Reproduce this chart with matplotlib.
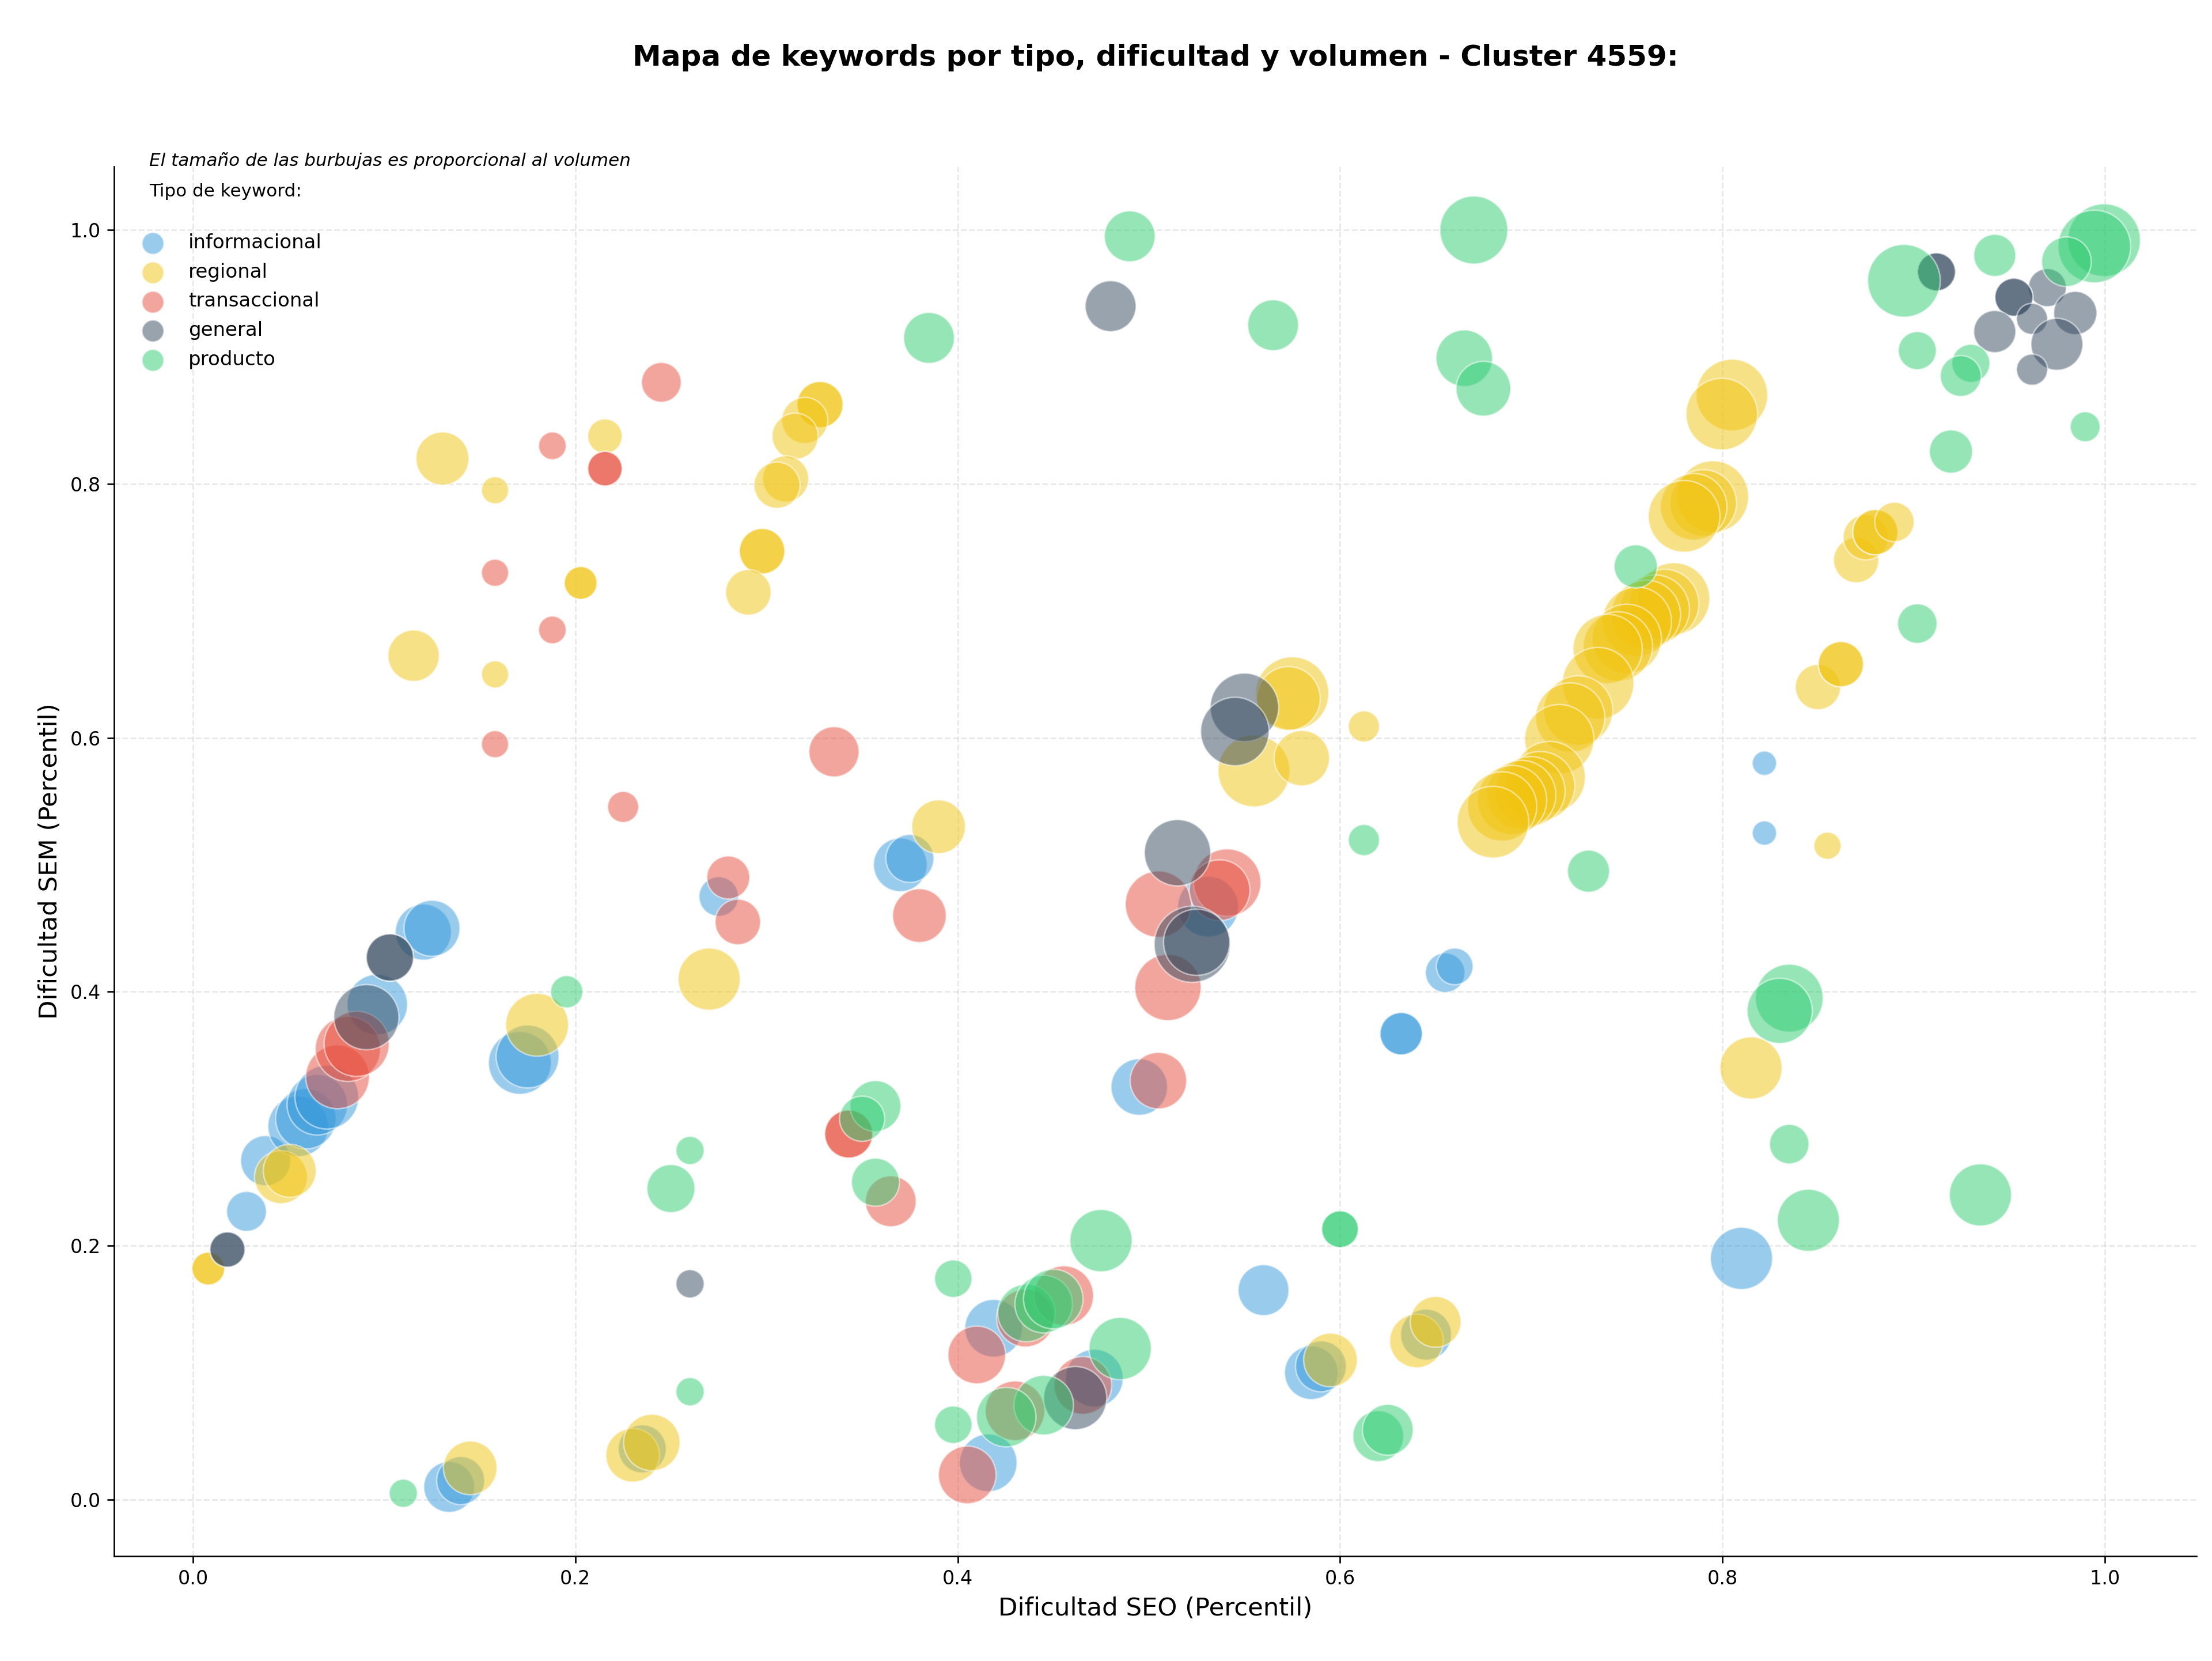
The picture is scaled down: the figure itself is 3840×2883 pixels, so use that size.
import matplotlib
matplotlib.use("Agg")
import matplotlib.pyplot as plt

# ---------------- data ----------------
tipos = ["informacional", "regional", "transaccional", "general", "producto"]
colores = ["#3498db", "#f1c40f", "#e74c3c", "#34495e", "#2ecc71"]

x_informacional = [0.028, 0.038, 0.055, 0.059, 0.065, 0.070, 0.0964, 0.1205, 0.125, 0.171, 0.175,
                   0.275, 0.370, 0.375, 0.531, 0.495, 0.655, 0.660, 0.632, 0.632, 0.822, 0.822,
                   0.810, 0.560, 0.585, 0.590, 0.645, 0.134, 0.140, 0.235, 0.4188, 0.4715, 0.416]
y_informacional = [0.227, 0.267, 0.294, 0.300, 0.311, 0.317, 0.390, 0.447, 0.450, 0.344, 0.349,
                   0.475, 0.500, 0.505, 0.467, 0.325, 0.415, 0.420, 0.367, 0.367, 0.580, 0.525,
                   0.190, 0.165, 0.100, 0.105, 0.130, 0.010, 0.015, 0.040, 0.135, 0.0957, 0.029]
v_informacional = [430, 680, 990, 990, 990, 1100, 990, 850, 850, 1070, 1070,
                   423, 780, 624, 1000, 864, 423, 365, 486, 486, 160, 160,
                   1045, 700, 780, 700, 700, 700, 624, 624, 900, 900, 900]

x_regional = [0.008, 0.008, 0.046, 0.0506, 0.180, 0.1305, 0.2155, 0.158, 0.328, 0.328, 0.320,
              0.315, 0.310, 0.3055, 0.2977, 0.2977, 0.2905, 0.2028, 0.2028, 0.1154, 0.158,
              0.270, 0.390, 0.145, 0.230, 0.240, 0.575, 0.573, 0.555, 0.580, 0.6125,
              0.595, 0.640, 0.650, 0.855, 0.815, 0.850, 0.862, 0.862, 0.870, 0.875, 0.880,
              0.880, 0.890, 0.805, 0.7997, 0.795, 0.790, 0.785, 0.780, 0.7747, 0.7696,
              0.7647, 0.760, 0.7553, 0.750, 0.7454, 0.740, 0.735, 0.7246, 0.7204, 0.7147,
              0.7096, 0.7047, 0.6996, 0.6948, 0.690, 0.6848, 0.680]
y_regional = [0.182, 0.182, 0.254, 0.259, 0.374, 0.820, 0.8376, 0.795, 0.8625, 0.8625, 0.850,
              0.8376, 0.804, 0.799, 0.747, 0.747, 0.7146, 0.722, 0.722, 0.6647, 0.650,
              0.410, 0.530, 0.025, 0.035, 0.045, 0.635, 0.631, 0.574, 0.584, 0.609,
              0.110, 0.125, 0.140, 0.515, 0.340, 0.640, 0.658, 0.658, 0.740, 0.758, 0.762,
              0.762, 0.770, 0.870, 0.855, 0.790, 0.785, 0.782, 0.7745, 0.7097, 0.7055,
              0.701, 0.697, 0.6915, 0.678, 0.672, 0.670, 0.643, 0.6216, 0.616, 0.599,
              0.569, 0.562, 0.558, 0.555, 0.551, 0.546, 0.5336]
v_regional = [292, 292, 760, 760, 1070, 760, 322, 199, 576, 576, 576,
              576, 576, 576, 560, 560, 560, 292, 292, 713, 199,
              1045, 780, 780, 780, 864, 1450, 1100, 1400, 830, 262,
              780, 780, 700, 200, 1045, 553, 553, 553, 553, 553, 553,
              553, 423, 1390, 1390, 1390, 1200, 1200, 1390, 1390, 1300,
              1300, 1300, 1300, 1300, 1300, 1300, 1390, 1300, 1300, 1300,
              1390, 1300, 1300, 1300, 1300, 1300, 1390]

x_transaccional = [0.0756, 0.081, 0.0856, 0.245, 0.188, 0.2155, 0.2155, 0.158, 0.188, 0.158,
                   0.3353, 0.225, 0.280, 0.285, 0.380, 0.343, 0.343, 0.365, 0.505, 0.541,
                   0.537, 0.510, 0.505, 0.410, 0.4354, 0.4555, 0.4655, 0.430, 0.405]
y_transaccional = [0.333, 0.355, 0.359, 0.880, 0.830, 0.812, 0.812, 0.730, 0.685, 0.595,
                   0.589, 0.5456, 0.490, 0.455, 0.460, 0.288, 0.288, 0.235, 0.469, 0.486,
                   0.480, 0.4034, 0.330, 0.114, 0.143, 0.1607, 0.090, 0.070, 0.0195]
v_transaccional = [1100, 1150, 1150, 428, 207, 322, 322, 199, 207, 199,
                   681, 261, 500, 560, 780, 624, 624, 700, 1190, 1230,
                   1000, 1190, 864, 900, 900, 960, 900, 960, 900]

x_general = [0.018, 0.018, 0.0907, 0.103, 0.103, 0.480, 0.260, 0.550, 0.545, 0.515, 0.5227,
             0.525, 0.4615, 0.912, 0.912, 0.970, 0.9525, 0.9525, 0.9846, 0.962, 0.9425,
             0.975, 0.962]
y_general = [0.197, 0.197, 0.380, 0.427, 0.427, 0.940, 0.170, 0.624, 0.605, 0.5095, 0.4374,
             0.439, 0.080, 0.967, 0.967, 0.9546, 0.947, 0.947, 0.9346, 0.930, 0.920,
             0.910, 0.890]
v_general = [335, 335, 1150, 605, 605, 700, 216, 1270, 1270, 1190, 1570,
             1190, 1080, 392, 392, 392, 392, 392, 506, 262, 480,
             729, 262]

x_producto = [0.1955, 0.670, 0.490, 0.385, 0.565, 0.665, 0.675, 0.895, 0.9425, 0.9997, 0.9946,
              0.980, 0.902, 0.930, 0.9247, 0.9898, 0.9196, 0.902, 0.7547, 0.730, 0.6125,
              0.835, 0.830, 0.835, 0.845, 0.935, 0.600, 0.600, 0.620, 0.625, 0.260, 0.250,
              0.260, 0.110, 0.357, 0.350, 0.357, 0.3977, 0.3977, 0.475, 0.485, 0.436,
              0.445, 0.450, 0.445, 0.4254]
y_producto = [0.400, 1.000, 0.995, 0.915, 0.925, 0.899, 0.875, 0.960, 0.980, 0.992, 0.987,
              0.975, 0.905, 0.895, 0.885, 0.845, 0.8255, 0.690, 0.735, 0.495, 0.5195,
              0.395, 0.385, 0.280, 0.220, 0.240, 0.213, 0.213, 0.050, 0.055, 0.275, 0.245,
              0.085, 0.005, 0.310, 0.300, 0.250, 0.174, 0.059, 0.204, 0.119, 0.147,
              0.154, 0.158, 0.0744, 0.065]
v_producto = [282, 1250, 700, 700, 700, 864, 810, 1430, 480, 1430, 1430,
              666, 392, 392, 454, 243, 506, 423, 506, 480, 262,
              1244, 1150, 423, 1045, 1045, 365, 365, 700, 700, 216, 624,
              216, 216, 700, 553, 624, 380, 380, 1050, 1050, 900,
              900, 960, 960, 960]

series = [
    (x_informacional, y_informacional, v_informacional),
    (x_regional, y_regional, v_regional),
    (x_transaccional, y_transaccional, v_transaccional),
    (x_general, y_general, v_general),
    (x_producto, y_producto, v_producto),
]

titulo = "Mapa de keywords por tipo, dificultad y volumen - Cluster 4559:"
nota = "El tamaño de las burbujas es proporcional al volumen"
ticks = [0.0, 0.2, 0.4, 0.6, 0.8, 1.0]

# ---------------- figure ----------------
plt.rcParams["font.family"] = ["DejaVu Sans"]
fig = plt.figure(figsize=(16, 12.0125), dpi=240)
ax = fig.add_axes([0.05156, 0.06313, 0.94141, 0.83663])

SIZE_SCALE = 1.0
for (xs, ys, vs), col in zip(series, colores):
    ax.scatter(xs, ys, s=[v * SIZE_SCALE for v in vs], c=col, alpha=0.5,
               edgecolors="white", linewidths=0.8, zorder=3)

ax.set_xlim(-0.0413, 1.048)
ax.set_ylim(-0.0445, 1.050)
ax.set_xticks(ticks)
ax.set_yticks(ticks)
ax.tick_params(labelsize=10)
ax.grid(True, linestyle="--", color="#cccccc", alpha=0.45, linewidth=0.8)
ax.set_axisbelow(True)
for sp in ["top", "right"]:
    ax.spines[sp].set_visible(False)

ax.set_xlabel("Dificultad SEO (Percentil)", fontsize=13)
ax.set_ylabel("Dificultad SEM (Percentil)", fontsize=13)

fig.text(0.5223, 0.9653, titulo, ha="center", va="center", fontsize=15, fontweight="bold")

ax.text(0.017, 1.004, nota, transform=ax.transAxes, fontsize=9.3, style="italic",
        ha="left", va="center")
ax.text(0.017, 0.9818, "Tipo de keyword:", transform=ax.transAxes, fontsize=9.3,
        ha="left", va="center")

handles = [ax.scatter([], [], s=130, c=col, alpha=0.5, edgecolors="white", linewidths=0.8, label=t)
           for t, col in zip(tipos, colores)]
ax.legend(handles=handles, loc="upper left", bbox_to_anchor=(0.0055, 0.9575),
          frameon=False, fontsize=10.2, borderaxespad=0, labelspacing=0.52)

fig.savefig("out.png", dpi=240)
